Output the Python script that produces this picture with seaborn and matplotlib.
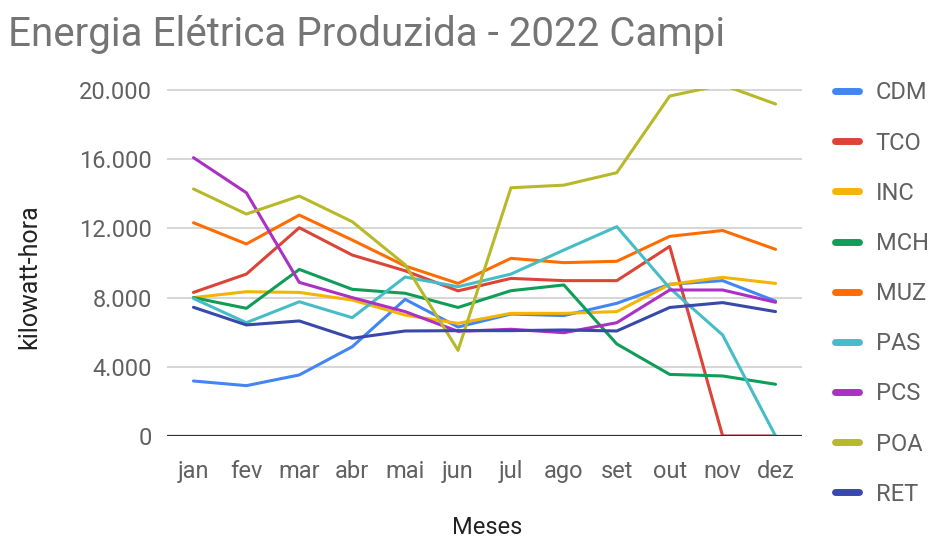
import matplotlib
matplotlib.use("Agg")
import matplotlib.pyplot as plt
from matplotlib.ticker import FixedLocator, FuncFormatter
import seaborn as sns
import pandas as pd

meses = ["jan", "fev", "mar", "abr", "mai", "jun", "jul", "ago", "set", "out", "nov", "dez"]
campi = ["CDM", "TCO", "INC", "MCH", "MUZ", "PAS", "PCS", "POA", "RET"]

cdm = [3180, 2910, 3530, 5160, 7900, 6300, 7050, 6960, 7670, 8770, 8980, 7800]
tco = [8300, 9360, 12040, 10460, 9550, 8390, 9110, 8980, 8980, 10960, 0, 0]
inc = [8000, 8340, 8300, 7860, 6990, 6510, 7090, 7090, 7190, 8760, 9170, 8820]
mch = [8000, 7380, 9630, 8480, 8250, 7430, 8400, 8730, 5320, 3560, 3470, 2990]
muz = [12330, 11100, 12770, 11330, 9830, 8820, 10270, 10020, 10100, 11540, 11880, 10790]
pas = [7950, 6550, 7760, 6840, 9190, 8630, 9360, 10750, 12100, 8550, 5840, 0]
pcs = [16090, 14060, 8880, 8000, 7190, 6050, 6170, 5970, 6550, 8440, 8440, 7730]
poa = [14280, 12830, 13870, 12390, 9900, 4950, 14350, 14500, 15220, 19650, 20300, 19190]
ret = [7440, 6420, 6650, 5650, 6070, 6090, 6090, 6130, 6070, 7430, 7710, 7190]

series = [cdm, tco, inc, mch, muz, pas, pcs, poa, ret]
y_ticks = [0, 4000, 8000, 12000, 16000, 20000]

cores = ["#4285F4", "#DB4437", "#F4B400", "#0F9D58", "#FF6D00",
         "#46BDC6", "#AB30C4", "#B8B92A", "#3949AB"]

df = pd.DataFrame(
    [(m, c, v) for c, vals in zip(campi, series) for m, v in zip(meses, vals)],
    columns=["Mês", "Campus", "kWh"],
)

sns.set_theme(style="white")
plt.rcParams["font.family"] = ["Roboto", "DejaVu Sans"]

W, H = 931, 539
fig = plt.figure(figsize=(W / 100, H / 100), dpi=100)
ymax = 20080
left, right, bottom = 167, 802, 436
top = bottom - 346 * ymax / 20000
ax_w, ax_h = right - left, bottom - top
ax = fig.add_axes([left / W, 1 - bottom / H, ax_w / W, ax_h / H])

sns.lineplot(data=df, x="Mês", y="kWh", hue="Campus", hue_order=campi,
             palette=cores, linewidth=2.2, sort=False, ax=ax, legend=True)

ax.set_xlim(-0.5, 11.5)
ax.set_ylim(0, ymax)
ax.yaxis.set_major_locator(FixedLocator(y_ticks))
ax.yaxis.set_major_formatter(FuncFormatter(lambda v, p: f"{int(v):,}".replace(",", ".")))
ax.grid(axis="y", color="#cccccc", linewidth=1.1)
ax.grid(axis="x", visible=False)
for s in ax.spines.values():
    s.set_visible(False)
ax.axhline(0, color="#333333", linewidth=1.6, zorder=3)
ax.tick_params(axis="both", length=0, labelsize=17, labelcolor="#616161")
ax.tick_params(axis="y", pad=11)
ax.tick_params(axis="x", pad=17)

ax.set_xlabel("Meses", fontsize=17, color="#222222", va="center", ha="center")
ax.xaxis.set_label_coords((487 - left) / ax_w, (bottom - 527) / ax_h)
ax.set_ylabel("kilowatt-hora", fontsize=18, color="#222222", va="center", ha="center")
ax.yaxis.set_label_coords((29 - left) / ax_w, (bottom - 277) / ax_h)

handles, labels = ax.get_legend_handles_labels()
ax.get_legend().remove()
leg = fig.legend(handles, labels, loc="upper left",
                 bbox_to_anchor=(826 / W, 1 - 72 / H), frameon=False,
                 fontsize=17, labelcolor="#616161", handlelength=1.0,
                 handletextpad=0.7, labelspacing=1.15, borderaxespad=0)
for h in leg.legend_handles:
    h.set_linewidth(5)

fig.text(8 / W, 1 - 34 / H, "Energia Elétrica Produzida - 2022 Campi",
         fontsize=29, color="#757575", va="center", ha="left")

fig.savefig("out.png", dpi=100)
